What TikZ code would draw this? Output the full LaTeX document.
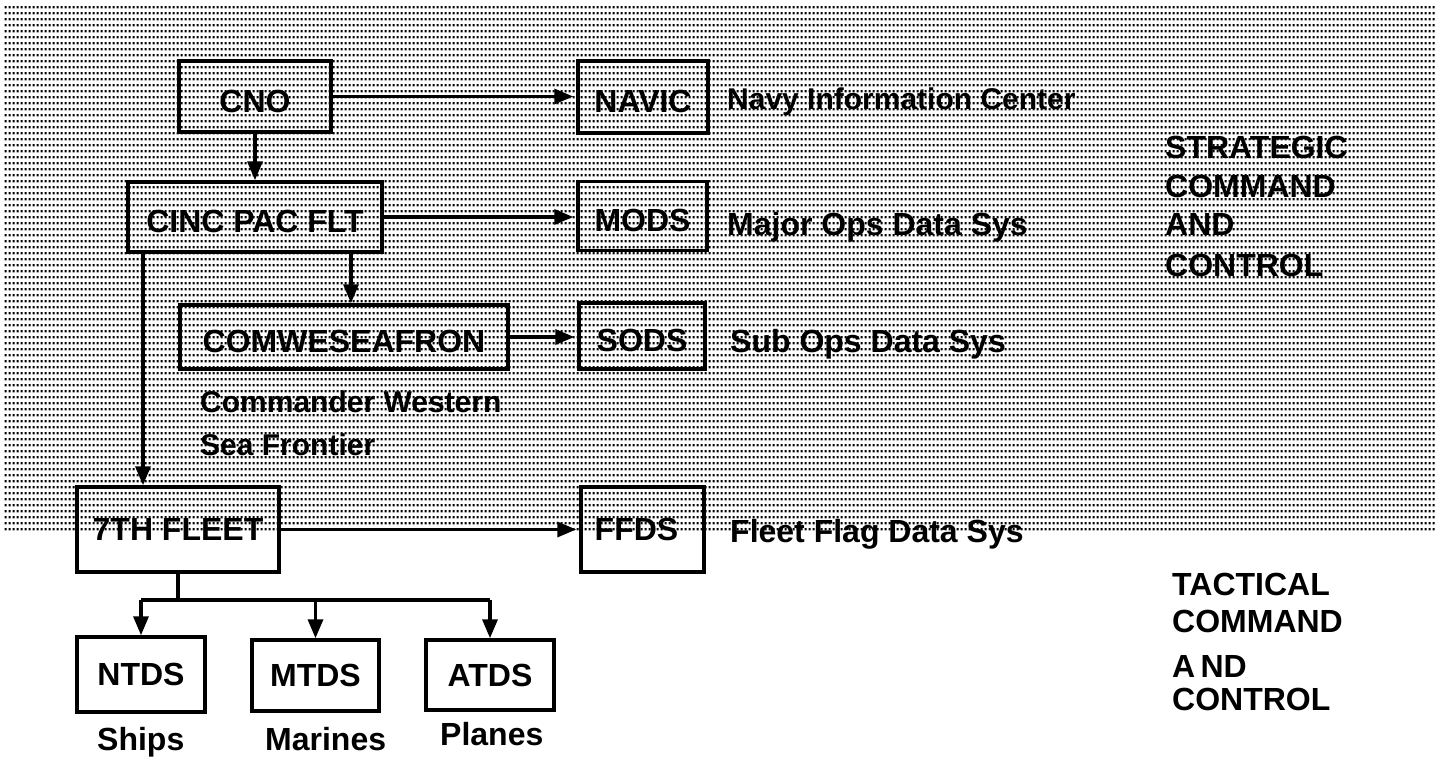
\documentclass[tikz,border=0pt]{standalone}
\usepackage{fontspec}
\setmainfont{Liberation Sans}
\usetikzlibrary{arrows.meta,patterns,calc}
\pgfdeclarepatternformonly{halftone}{\pgfpointorigin}{\pgfpoint{4pt}{6pt}}{\pgfpoint{4pt}{6pt}}{%
  \pgfpathrectangle{\pgfpoint{0.8pt}{1.8pt}}{\pgfpoint{2.6pt}{2.6pt}}\pgfusepath{fill}}
\begin{document}
\begin{tikzpicture}[x=1pt,y=-1pt,
  box/.style={draw, line width=3.5pt, inner sep=0pt, font=\fontsize{32}{38}\selectfont\bfseries},
  upbox/.style={box, text height=31pt, text depth=0pt},
  lbl/.style={inner sep=0pt, anchor=base west, font=\fontsize{32}{38}\selectfont\bfseries},
  sublbl/.style={lbl, font=\fontsize{30}{36}\selectfont\bfseries},
  conn/.style={line width=3.5pt, -{Triangle[length=19pt,width=15pt]}},
  wire/.style={line width=3.5pt}]
\useasboundingbox (0,0) rectangle (1435,760);
% halftone background of the strategic area
\fill[pattern=halftone, pattern color=black] (3,5) rectangle (1435,531);

% boxes
\node[upbox, minimum width=152, minimum height=71] (cno) at (255,96.5) {CNO};
\node[upbox, minimum width=130, minimum height=72] (navic) at (643,97) {NAVIC};
\node[upbox, minimum width=254, minimum height=70] (cinc) at (255,217) {CINC PAC FLT};
\node[upbox, minimum width=129, minimum height=69] (mods) at (642.5,216) {MODS};
\node[upbox, minimum width=328, minimum height=64] (comw) at (344,337) {COMWESEAFRON};
\node[upbox, minimum width=126, minimum height=66] (sods) at (642,336) {SODS};
\node[box, minimum width=202, minimum height=85] (fleet) at (178,529.5) {7TH FLEET};
\node[box, minimum width=123, minimum height=85] (ffds) at (642.5,529.5) {\hspace*{-12pt}FFDS};
\node[box, minimum width=128, minimum height=75] (ntds) at (141,674.5) {NTDS};
\node[box, minimum width=127, minimum height=71] (mtds) at (315.5,675.5) {MTDS};
\node[box, minimum width=128, minimum height=70] (atds) at (490,675) {ATDS};

% side labels
\node[sublbl] (lnavic) at (727,110) {Navy Information Center};
\node[lbl] (lmods) at (727,235) {Major Ops Data Sys};
\node[lbl] (lsods) at (730,352) {Sub Ops Data Sys};
\node[lbl] (lffds) at (730,542) {Fleet Flag Data Sys};
\node[sublbl] (lcomw1) at (200,412) {Commander Western};
\node[sublbl] (lcomw2) at (200,455) {Sea Frontier};
\node[lbl] (lships) at (97,750) {Ships};
\node[lbl] (lmarines) at (265,750) {Marines};
\node[lbl] (lplanes) at (440,745) {Planes};

% area captions
\node[lbl] (s1) at (1165,158) {STRATEGIC};
\node[lbl] (s2) at (1165,197) {COMMAND};
\node[lbl] (s3) at (1165,235) {AND};
\node[lbl] (s4) at (1165,276) {CONTROL};
\node[lbl] (t1) at (1172,595) {TACTICAL};
\node[lbl] (t2) at (1172,632) {COMMAND};
\node[lbl] (t3) at (1172,677) {A\,ND};
\node[lbl] (t4) at (1172,710) {CONTROL};

% connectors
\draw[conn, shorten >=3pt] (cno.east) -- (cno.east -| navic.west);
\draw[conn] (cno.south) -- (cinc.north);
\draw[conn, shorten >=3pt] (cinc.east) -- (cinc.east -| mods.west);
\draw[conn] ([xshift=96pt]cinc.south) -- ([xshift=96pt]cinc.south |- comw.north);
\draw[conn] ([xshift=-112pt]cinc.south) -- ([xshift=-112pt]cinc.south |- fleet.north);
\draw[conn, shorten >=3pt] (comw.east) -- (comw.east -| sods.west);
\draw[conn, shorten >=3pt] (fleet.east) -- (fleet.east -| ffds.west);
\coordinate (bar) at ($(fleet.south)+(0,26)$);
\draw[wire] (fleet.south) -- (bar);
\draw[wire] (ntds.north |- bar) -- (atds.north |- bar);
\draw[conn] (ntds.north |- bar) -- (ntds.north);
\draw[conn] (mtds.north |- bar) -- (mtds.north);
\draw[conn] (atds.north |- bar) -- (atds.north);
\end{tikzpicture}
\end{document}
